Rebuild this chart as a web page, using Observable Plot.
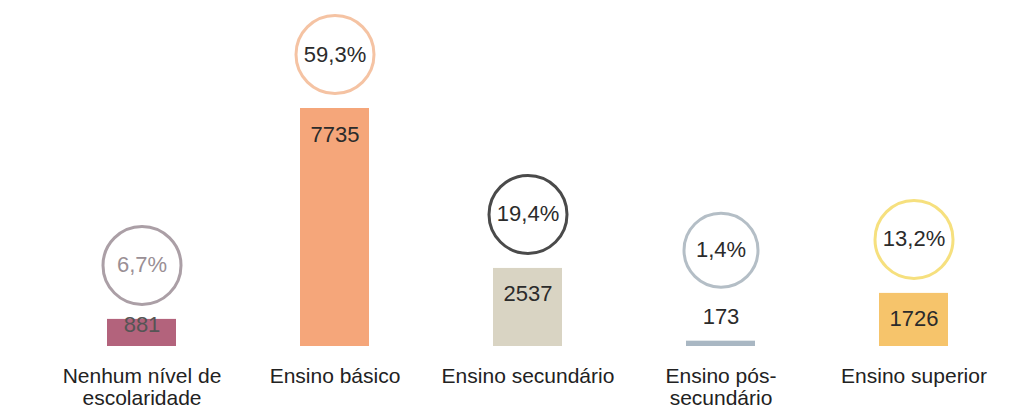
<!DOCTYPE html>
<html>
<head>
<meta charset="utf-8">
<script src="https://cdn.jsdelivr.net/npm/d3@7"></script>
<script src="https://cdn.jsdelivr.net/npm/@observablehq/plot@0.6"></script>
<style>
  html, body { margin: 0; padding: 0; background: #fff; }
  #chart { width: 1032px; height: 412px; }
</style>
</head>
<body>
<div id="chart"></div>
<script>
const categories = ["Nenhum nível de escolaridade", "Ensino básico", "Ensino secundário", "Ensino pós-secundário", "Ensino superior"];
const tickLabels = ["Nenhum nível de\nescolaridade", "Ensino básico", "Ensino secundário", "Ensino pós-\nsecundário", "Ensino superior"];
const counts = [881, 7735, 2537, 173, 1726];
const percents = ["6,7%", "59,3%", "19,4%", "1,4%", "13,2%"];
const barColors = ["#b3637c", "#f5a67a", "#d9d4c3", "#a9b7c3", "#f6c46b"];
const circleColors = ["#ab9fa6", "#f5c3a3", "#4a4a4a", "#b4bec6", "#f6e07e"];
const percentColors = ["#9a8f95", "#2b2b2b", "#2b2b2b", "#2b2b2b", "#2b2b2b"];

const rows = categories.map((c, i) => ({
  cat: c,
  count: counts[i],
  pct: percents[i],
  bar: barColors[i],
  ring: circleColors[i],
  pctColor: percentColors[i]
}));

const big = rows.filter(d => d.count >= 1000);
const mid = rows.filter(d => d.count >= 500 && d.count < 1000);
const small = rows.filter(d => d.count < 500);
const withRingAbove = rows.filter(d => d.count >= 500);

const font = "'Liberation Sans', Arial, sans-serif";

const chart = Plot.plot({
  width: 1032,
  height: 412,
  marginLeft: 44,
  marginRight: 21,
  marginTop: 108,
  marginBottom: 66,
  style: { fontFamily: font, background: "#fff", overflow: "visible" },
  x: { domain: categories, padding: 0, axis: null, label: null },
  y: { domain: [0, 7735], axis: null },
  color: { type: "identity" },
  marks: [
    Plot.barY(rows, { x: "cat", y: "count", fill: "bar", insetLeft: 62, insetRight: 62 }),
    // value labels
    Plot.text(big, { x: "cat", y: "count", text: d => String(d.count), dy: 26, fontSize: 22, fill: "#2b2b2b" }),
    Plot.text(mid, { x: "cat", y: "count", text: d => String(d.count), dy: 6, fontSize: 22, fill: "#555" }),
    Plot.text(small, { x: "cat", y: "count", text: d => String(d.count), dy: -24, fontSize: 22, fill: "#2b2b2b" }),
    // rings
    Plot.dot(withRingAbove, { x: "cat", y: "count", r: 39, stroke: "ring", strokeWidth: 3, fill: "white", dy: -54 }),
    Plot.dot(small, { x: "cat", y: "count", r: 37, stroke: "ring", strokeWidth: 3, fill: "white", dy: -91 }),
    Plot.text(withRingAbove, { x: "cat", y: "count", text: "pct", fill: "pctColor", dy: -54, fontSize: 22 }),
    Plot.text(small, { x: "cat", y: "count", text: "pct", fill: "pctColor", dy: -91, fontSize: 22 }),
    // category axis
    Plot.axisX({
      domain: categories,
      label: null,
      tickSize: 0,
      tickPadding: 20,
      fontSize: 21,
      lineHeight: 1.08,
      color: "#222",
      tickFormat: d => tickLabels[categories.indexOf(d)]
    })
  ]
});

document.getElementById("chart").appendChild(chart);
</script>
</body>
</html>
